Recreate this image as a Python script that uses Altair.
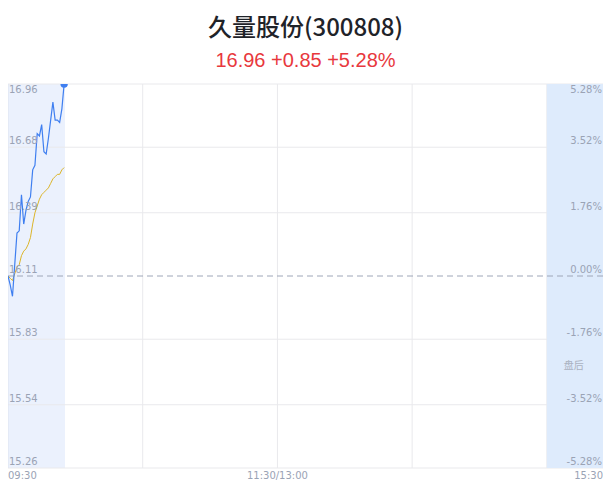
import altair as alt
import pandas as pd

# intraday minutes after 09:30 (session: 0..240, after-hours: 240..265)
minutes = list(range(26))
price = [16.11, 16.07, 16.02, 16.16, 16.30, 16.31, 16.47, 16.34, 16.40, 16.44,
         16.46, 16.58, 16.60, 16.74, 16.73, 16.78, 16.66, 16.65, 16.72, 16.80,
         16.88, 16.80, 16.80, 16.79, 16.85, 16.96]
avg_price = [16.11, 16.10, 16.09, 16.12, 16.15, 16.16, 16.20, 16.22, 16.23, 16.25,
             16.28, 16.34, 16.39, 16.42, 16.45, 16.47, 16.48, 16.49, 16.50, 16.52,
             16.54, 16.55, 16.56, 16.56, 16.58, 16.59]

price_ticks = [16.96, 16.68, 16.39, 16.11, 15.83, 15.54, 15.26]
pct_ticks = ["5.28%", "3.52%", "1.76%", "0.00%", "-1.76%", "-3.52%", "-5.28%"]
prev_close = 16.11

grid_minutes = [60, 120, 180, 240]
time_labels = ["09:30", "11:30/13:00", "15:30"]
time_pos = [0, 120, 265]

title_text = "久量股份(300808)"
subtitle_text = "16.96 +0.85 +5.28%"

GRAY = "#9aa3b5"
FONT = "DejaVu Sans"

x_scale = alt.Scale(domain=[0, 265], nice=False, zero=False)
y_scale = alt.Scale(domain=[15.26, 16.96], nice=False, zero=False)

line_df = pd.DataFrame({"t": minutes, "price": price, "avg": avg_price})
ticks_df = pd.DataFrame({"p": price_ticks, "pct": pct_ticks})
vgrid_df = pd.DataFrame({"t": grid_minutes})
time_df = pd.DataFrame({"t": time_pos, "label": time_labels})

X = lambda f: alt.X(f, scale=x_scale, axis=None)
Y = lambda f: alt.Y(f, scale=y_scale, axis=None)

# shaded areas: traded part of the morning and the after-hours block
shade_df = pd.DataFrame({"t0": [0], "t1": [minutes[-1] + 0.4], "lo": [15.26], "hi": [16.96]})
after_df = pd.DataFrame({"t0": [240], "t1": [265], "lo": [15.26], "hi": [16.96]})

shade = alt.Chart(shade_df).mark_rect(color="#ebf1fd").encode(
    x=X("t0:Q"), x2="t1", y=Y("lo:Q"), y2="hi")

hgrid = alt.Chart(ticks_df).transform_filter(f"datum.p != {prev_close}").mark_rule(
    color="#e9e9ec", strokeWidth=1).encode(y=Y("p:Q"))

vgrid = alt.Chart(vgrid_df).mark_rule(color="#e9e9ec", strokeWidth=1).encode(x=X("t:Q"))

left_edge = alt.Chart(pd.DataFrame({"t": [0]})).mark_rule(
    color="#dde3ef", strokeWidth=1).encode(x=X("t:Q"))

after = alt.Chart(after_df).mark_rect(color="#deebfc").encode(
    x=X("t0:Q"), x2="t1", y=Y("lo:Q"), y2="hi")

zero_line = alt.Chart(pd.DataFrame({"p": [prev_close]})).mark_rule(
    color="#9ea6b8", strokeDash=[6, 4], strokeWidth=1).encode(y=Y("p:Q"))

avg_line = alt.Chart(line_df).mark_line(color="#dcb52a", strokeWidth=1).encode(
    x=X("t:Q"), y=Y("avg:Q"))

price_line = alt.Chart(line_df).mark_line(color="#3f7ff0", strokeWidth=1.2).encode(
    x=X("t:Q"), y=Y("price:Q"))

last_dot = alt.Chart(line_df.tail(1)).mark_circle(
    color="#3f7ff0", size=55, opacity=1, clip=True).encode(
    x=X("t:Q"), y=Y("price:Q"))

label_style = dict(font=FONT, fontSize=10, color=GRAY)

left_top = alt.Chart(ticks_df.head(1)).mark_text(
    align="left", baseline="top", dx=1, dy=1, **label_style).encode(
    x=alt.value(0), y=Y("p:Q"), text="p:N")
left_rest = alt.Chart(ticks_df.iloc[1:]).mark_text(
    align="left", baseline="bottom", dx=1, dy=-1, **label_style).encode(
    x=alt.value(0), y=Y("p:Q"), text=alt.Text("p:Q", format=".2f"))

right_top = alt.Chart(ticks_df.head(1)).mark_text(
    align="right", baseline="top", dx=-1, dy=1, **label_style).encode(
    x=alt.value(595), y=Y("p:Q"), text="pct:N")
right_rest = alt.Chart(ticks_df.iloc[1:]).mark_text(
    align="right", baseline="bottom", dx=-1, dy=-1, **label_style).encode(
    x=alt.value(595), y=Y("p:Q"), text="pct:N")

after_label = alt.Chart(pd.DataFrame({"t": [252], "p": [15.71], "txt": ["盘后"]})).mark_text(
    font="Noto Sans CJK SC", fontSize=10, color="#aab1c0").encode(
    x=X("t:Q"), y=Y("p:Q"), text="txt:N")

time_layers = []
for i, a in enumerate(["left", "center", "right"]):
    time_layers.append(
        alt.Chart(time_df.iloc[[i]]).mark_text(
            align=a, baseline="top", dy=3, **label_style).encode(
            x=X("t:Q"), y=alt.value(384), text="label:N"))

chart = alt.layer(
    shade, hgrid, vgrid, left_edge, after, zero_line,
    avg_line, price_line, last_dot,
    left_top, left_rest, right_top, right_rest, after_label, *time_layers,
).properties(
    width=595,
    height=384,
    padding={"left": 0, "top": 76, "right": 0, "bottom": 16},
    autosize=alt.AutoSizeParams(type="none"),
    title=alt.TitleParams(
        text=title_text,
        subtitle=subtitle_text,
        anchor="middle",
        font="Noto Sans CJK SC",
        fontSize=24,
        fontWeight=500,
        color="#1f2329",
        subtitleFont="Liberation Sans",
        subtitleFontSize=20,
        subtitleColor="#e8383d",
        subtitlePadding=10,
        offset=11,
    ),
).configure_view(stroke=None)

chart.save("out.html", embed_options={"renderer": "svg", "actions": False})
